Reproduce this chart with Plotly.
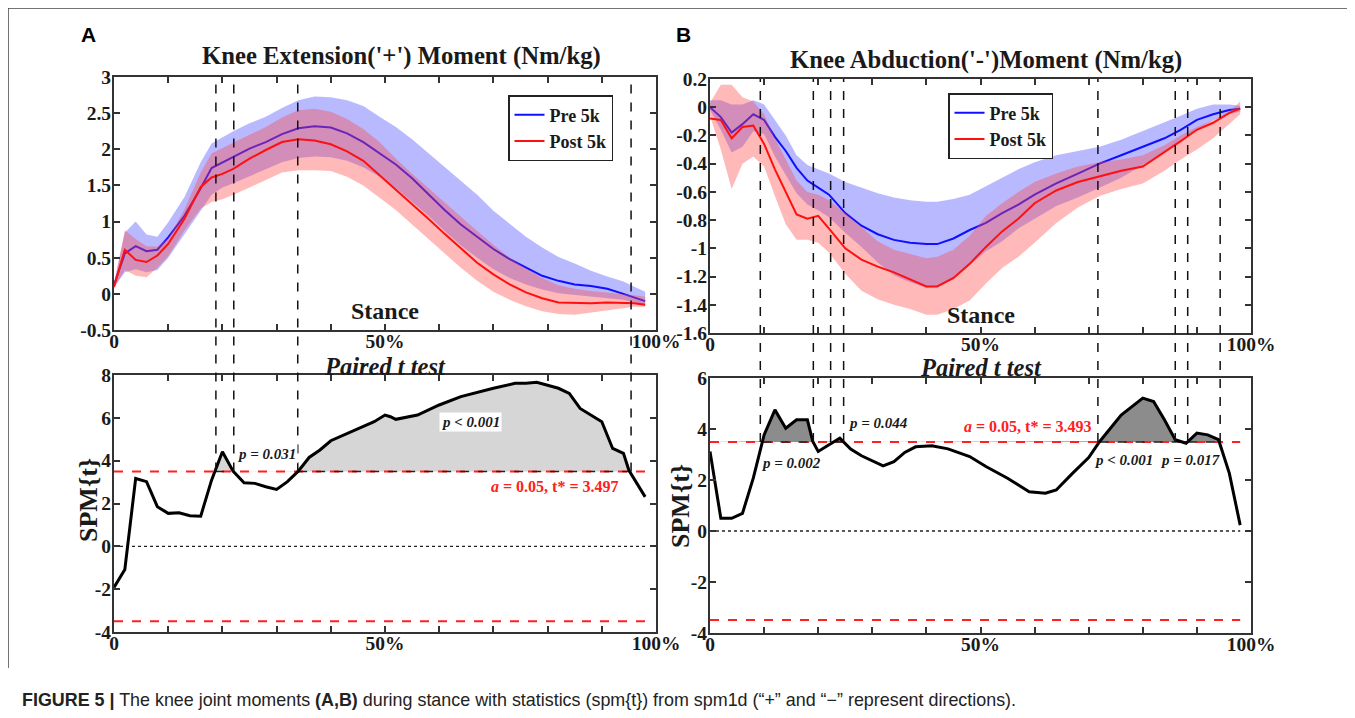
import numpy as np
import plotly.graph_objects as go

# ---------------- data ----------------
# Panel A: knee extension moment (Nm/kg), stance %
stance_A = [0, 2, 4, 6, 8, 10, 13, 16, 18, 20, 22, 25, 28, 31, 34, 37, 40, 43, 46, 49,
            52, 55, 58, 61, 64, 67, 70, 73, 76, 79, 82, 85, 88, 91, 94, 96, 98]
pre_mean_A = [0.12, 0.56, 0.66, 0.59, 0.61, 0.78, 1.08, 1.46, 1.74, 1.82, 1.89, 2.01, 2.10, 2.21, 2.29, 2.32, 2.30, 2.22, 2.10, 1.95,
              1.79, 1.60, 1.38, 1.16, 0.96, 0.79, 0.62, 0.48, 0.36, 0.25, 0.18, 0.13, 0.11, 0.07, 0.00, -0.05, -0.10]
pre_up_A = [0.14, 0.85, 1.00, 0.82, 0.79, 0.99, 1.34, 1.82, 2.08, 2.17, 2.25, 2.36, 2.45, 2.57, 2.68, 2.73, 2.72, 2.68, 2.60, 2.45,
            2.31, 2.14, 1.95, 1.76, 1.56, 1.37, 1.15, 0.97, 0.79, 0.64, 0.51, 0.42, 0.32, 0.24, 0.17, 0.10, 0.03]
pre_lo_A = [0.10, 0.30, 0.34, 0.30, 0.33, 0.50, 0.82, 1.15, 1.37, 1.47, 1.53, 1.63, 1.72, 1.82, 1.88, 1.90, 1.89, 1.84, 1.75, 1.62,
            1.46, 1.27, 1.08, 0.87, 0.67, 0.50, 0.34, 0.22, 0.13, 0.06, 0.01, -0.02, -0.04, -0.06, -0.08, -0.12, -0.16]
post_mean_A = [0.10, 0.61, 0.47, 0.44, 0.53, 0.69, 1.04, 1.48, 1.61, 1.66, 1.73, 1.87, 1.99, 2.10, 2.14, 2.12, 2.07, 1.97, 1.84, 1.64,
               1.45, 1.25, 1.04, 0.83, 0.63, 0.43, 0.27, 0.13, 0.02, -0.06, -0.12, -0.13, -0.13, -0.12, -0.12, -0.13, -0.15]
post_up_A = [0.14, 0.88, 0.76, 0.66, 0.65, 0.77, 1.17, 1.68, 1.94, 2.02, 2.09, 2.20, 2.31, 2.44, 2.54, 2.56, 2.52, 2.42, 2.28, 2.10,
             1.87, 1.66, 1.46, 1.26, 1.06, 0.87, 0.68, 0.50, 0.35, 0.22, 0.12, 0.07, 0.04, 0.02, 0.00, -0.02, -0.04]
post_lo_A = [0.07, 0.33, 0.25, 0.23, 0.36, 0.52, 0.88, 1.18, 1.27, 1.31, 1.37, 1.47, 1.57, 1.68, 1.71, 1.71, 1.70, 1.62, 1.50, 1.33,
             1.16, 0.96, 0.77, 0.56, 0.36, 0.18, 0.03, -0.08, -0.17, -0.24, -0.28, -0.29, -0.27, -0.24, -0.20, -0.18, -0.18]

spm_x_A = [0, 2, 4, 6, 8, 10, 12, 14, 16, 18, 20, 22, 24, 26, 28, 30, 32, 34, 36, 38, 40, 42, 44, 46, 48, 50,
           51, 52, 56, 60, 64, 70, 74, 76, 78, 82, 84, 86, 88, 90, 92, 94, 95, 98]
spm_A = [-1.92, -1.08, 3.17, 3.02, 1.85, 1.54, 1.57, 1.43, 1.41, 3.09, 4.42, 3.50, 2.97, 2.94, 2.78, 2.66, 3.02, 3.51,
         4.15, 4.50, 4.93, 5.15, 5.38, 5.62, 5.82, 6.13, 6.05, 5.93, 6.13, 6.60, 6.99, 7.38, 7.61, 7.61, 7.66, 7.38,
         7.14, 6.44, 6.13, 5.82, 4.57, 4.34, 3.55, 2.31]
t_crit_A = 3.497
cluster_edges_A = [18.8, 22.1, 33.9, 95.4]

# Panel B: knee abduction moment (Nm/kg)
stance_B = [0, 2, 4, 6, 8, 10, 12, 14, 16, 18, 20, 22, 25, 28, 31, 34, 37, 40, 42, 45,
            48, 51, 54, 57, 60, 64, 68, 72, 76, 80, 84, 87, 90, 93, 96, 98]
pre_mean_B = [0.00, -0.07, -0.18, -0.12, -0.05, -0.09, -0.21, -0.31, -0.43, -0.52, -0.57, -0.62, -0.75, -0.84, -0.90, -0.94, -0.96, -0.97, -0.97, -0.93,
              -0.87, -0.82, -0.75, -0.69, -0.62, -0.54, -0.47, -0.40, -0.34, -0.28, -0.22, -0.16, -0.09, -0.05, -0.02, -0.01]
pre_up_B = [0.05, 0.05, 0.02, 0.02, 0.05, 0.02, -0.09, -0.20, -0.34, -0.41, -0.44, -0.47, -0.53, -0.57, -0.61, -0.64, -0.66, -0.67, -0.67, -0.65,
            -0.62, -0.56, -0.50, -0.44, -0.39, -0.34, -0.31, -0.28, -0.23, -0.17, -0.11, -0.06, -0.01, 0.02, 0.02, 0.01]
pre_lo_B = [-0.02, -0.16, -0.32, -0.28, -0.17, -0.19, -0.35, -0.48, -0.61, -0.69, -0.73, -0.78, -0.89, -0.99, -1.10, -1.19, -1.24, -1.28, -1.27, -1.22,
            -1.12, -1.02, -0.95, -0.86, -0.79, -0.70, -0.64, -0.57, -0.50, -0.41, -0.32, -0.23, -0.16, -0.09, -0.05, -0.03]
post_mean_B = [-0.08, -0.09, -0.22, -0.14, -0.13, -0.26, -0.44, -0.60, -0.76, -0.79, -0.77, -0.86, -1.00, -1.08, -1.13, -1.17, -1.22, -1.27, -1.27, -1.21,
               -1.11, -0.99, -0.88, -0.79, -0.68, -0.59, -0.53, -0.49, -0.45, -0.42, -0.32, -0.24, -0.16, -0.11, -0.04, -0.01]
post_up_B = [0.03, 0.16, 0.16, 0.07, 0.04, -0.05, -0.22, -0.37, -0.52, -0.60, -0.62, -0.66, -0.75, -0.85, -0.95, -1.01, -1.04, -1.07, -1.06, -1.01,
             -0.91, -0.77, -0.68, -0.60, -0.53, -0.47, -0.42, -0.39, -0.37, -0.34, -0.27, -0.20, -0.14, -0.09, -0.03, 0.04]
post_lo_B = [-0.06, -0.30, -0.58, -0.40, -0.35, -0.42, -0.63, -0.83, -0.94, -0.94, -0.96, -1.03, -1.18, -1.30, -1.36, -1.40, -1.43, -1.47, -1.47, -1.43,
             -1.37, -1.25, -1.14, -1.06, -0.96, -0.82, -0.71, -0.63, -0.58, -0.54, -0.45, -0.37, -0.30, -0.22, -0.12, -0.05]

spm_x_B = [0, 2, 4, 6, 8, 10, 12, 14, 16, 18, 19, 20, 22, 24, 26, 28, 32, 34, 36, 38, 41, 44, 48, 51, 55, 59,
           62, 64, 67, 70, 72, 74, 76, 80, 82, 84, 86, 88, 90, 92, 94, 96, 98]
spm_B = [3.12, 0.50, 0.50, 0.69, 2.07, 3.77, 4.75, 4.03, 4.36, 4.36, 3.51, 3.12, 3.38, 3.64, 3.21, 2.95, 2.55, 2.72,
         3.08, 3.30, 3.34, 3.22, 2.92, 2.53, 2.07, 1.54, 1.48, 1.61, 2.26, 2.88, 3.50, 4.03, 4.55, 5.21, 5.08, 4.36,
         3.58, 3.44, 3.84, 3.77, 3.58, 2.26, 0.23]
t_crit_B = 3.493
cluster_edges_B = [9.3, 19.1, 22.3, 24.7, 71.7, 86.0, 88.3, 94.3]

x_ticks = [0, 10, 20, 30, 40, 50, 60, 70, 80, 90, 100]
x_ticktext = ["0", "", "", "", "", "50%", "", "", "", "", "100%"]
y_ticks_A_top = [-0.5, 0, 0.5, 1, 1.5, 2, 2.5, 3]
y_ticks_A_bot = [-4, -2, 0, 2, 4, 6, 8]
y_ticks_B_top = [-1.6, -1.4, -1.2, -1.0, -0.8, -0.6, -0.4, -0.2, 0, 0.2]
y_ticks_B_bot = [-4, -2, 0, 2, 4, 6]

# ---------------- layout helpers ----------------
W, H = 1355, 718
OFF = 8  # the page body margin shifts the figure by this many pixels
SERIF = "Liberation Serif, Times New Roman, serif"
SANS = "Liberation Sans, Arial, sans-serif"
INK = "#1a1a1a"


def PX(p):
    return (p - OFF) / W


def PY(p):
    return 1 - (p - OFF) / H


def dom_x(a, b):
    return [PX(a), PX(b)]


def dom_y(top, bottom):
    return [PY(bottom), PY(top)]


def fmt(v):
    return "%g" % round(v, 2)


DOM = {
    "A_top": (dom_x(114, 656), dom_y(77, 330)),
    "A_bot": (dom_x(114, 656), dom_y(375, 632)),
    "B_top": (dom_x(710, 1251), dom_y(79, 333)),
    "B_bot": (dom_x(710, 1251), dom_y(378, 633)),
}
RNG = {"A_top": [-0.5, 3], "A_bot": [-4, 8], "B_top": [-1.6, 0.2], "B_bot": [-4, 6]}

fig = go.Figure()

BLUE_FILL = "rgba(70,70,255,0.38)"
RED_FILL = "rgba(255,70,70,0.38)"


def moment_panel(xs, pm, pu, pl, qm, qu, ql, xa, ya, legend):
    xs = list(xs)
    fig.add_trace(go.Scatter(x=xs + xs[::-1], y=list(pu) + list(pl)[::-1], fill="toself",
                             fillcolor=BLUE_FILL, line=dict(width=0), mode="lines",
                             showlegend=False, hoverinfo="skip", xaxis=xa, yaxis=ya))
    fig.add_trace(go.Scatter(x=xs, y=pm, mode="lines", line=dict(color="#1010ff", width=2),
                             name="Pre 5k", legend=legend, xaxis=xa, yaxis=ya))
    fig.add_trace(go.Scatter(x=xs + xs[::-1], y=list(qu) + list(ql)[::-1], fill="toself",
                             fillcolor=RED_FILL, line=dict(width=0), mode="lines",
                             showlegend=False, hoverinfo="skip", xaxis=xa, yaxis=ya))
    fig.add_trace(go.Scatter(x=xs, y=qm, mode="lines", line=dict(color="#ff1010", width=2),
                             name="Post 5k", legend=legend, xaxis=xa, yaxis=ya))


def spm_panel(xs, ys, thr, xa, ya, fillcol):
    xs = np.asarray(xs, float)
    ys = np.asarray(ys, float)
    xd = np.linspace(xs[0], xs[-1], 2000)
    yd = np.interp(xd, xs, ys)
    up = np.maximum(yd, thr)
    fig.add_trace(go.Scatter(x=xd, y=np.full_like(xd, thr), mode="lines", line=dict(width=0),
                             showlegend=False, hoverinfo="skip", xaxis=xa, yaxis=ya))
    fig.add_trace(go.Scatter(x=xd, y=up, mode="lines", line=dict(width=0), fill="tonexty",
                             fillcolor=fillcol, showlegend=False, hoverinfo="skip", xaxis=xa, yaxis=ya))
    for t in (thr, -thr):
        fig.add_trace(go.Scatter(x=[xs[0], xs[-1]], y=[t, t], mode="lines",
                                 line=dict(color="#ff2020", width=2, dash="dash"),
                                 showlegend=False, hoverinfo="skip", xaxis=xa, yaxis=ya))
    above = np.where(yd > thr, thr, np.nan)
    fig.add_trace(go.Scatter(x=xd, y=above, mode="lines", connectgaps=False,
                             line=dict(color="#222", width=1.5, dash="dash"),
                             showlegend=False, hoverinfo="skip", xaxis=xa, yaxis=ya))
    fig.add_trace(go.Scatter(x=[xs[0], xs[-1]], y=[0, 0], mode="lines",
                             line=dict(color="#222", width=1.3, dash="dot"),
                             showlegend=False, hoverinfo="skip", xaxis=xa, yaxis=ya))
    fig.add_trace(go.Scatter(x=xs, y=ys, mode="lines", line=dict(color="black", width=3),
                             showlegend=False, hoverinfo="skip", xaxis=xa, yaxis=ya))


moment_panel(stance_A, pre_mean_A, pre_up_A, pre_lo_A, post_mean_A, post_up_A, post_lo_A, "x", "y", "legend")
spm_panel(spm_x_A, spm_A, t_crit_A, "x2", "y2", "#d6d6d6")
moment_panel(stance_B, pre_mean_B, pre_up_B, pre_lo_B, post_mean_B, post_up_B, post_lo_B, "x3", "y3", "legend2")
spm_panel(spm_x_B, spm_B, t_crit_B, "x4", "y4", "#8c8c8c")

TICKFONT = dict(family=SERIF, size=19.5, color=INK, weight="bold")


def xaxis(key, anchor):
    return dict(domain=DOM[key][0], anchor=anchor, range=[0, 100], tickvals=x_ticks, ticktext=x_ticktext,
                ticks="inside", ticklen=6, tickwidth=1.5, tickcolor="#333", showline=True, linecolor="#333",
                linewidth=2, mirror="ticks", showgrid=False, zeroline=False, tickfont=TICKFONT, tickangle=0,
                automargin=False, ticklabelstandoff=-7)


def yaxis(key, anchor, tv):
    return dict(domain=DOM[key][1], anchor=anchor, range=RNG[key], tickvals=tv, ticktext=[fmt(v) for v in tv],
                ticks="inside", ticklen=6, tickwidth=1.5, tickcolor="#333", showline=True, linecolor="#333",
                linewidth=2, mirror="ticks", showgrid=False, zeroline=False, tickfont=TICKFONT,
                automargin=False, ticklabelstandoff=-3)


LEGFONT = dict(family=SERIF, size=18, color=INK, weight="bold")
layout = dict(
    width=W, height=H, margin=dict(l=0, r=0, t=0, b=0, pad=0, autoexpand=False),
    paper_bgcolor="white", plot_bgcolor="white",
    xaxis=xaxis("A_top", "y"), yaxis=yaxis("A_top", "x", y_ticks_A_top),
    xaxis2=xaxis("A_bot", "y2"), yaxis2=yaxis("A_bot", "x2", y_ticks_A_bot),
    xaxis3=xaxis("B_top", "y3"), yaxis3=yaxis("B_top", "x3", y_ticks_B_top),
    xaxis4=xaxis("B_bot", "y4"), yaxis4=yaxis("B_bot", "x4", y_ticks_B_bot),
    legend=dict(x=PX(508), y=PY(95), xanchor="left", yanchor="top", bgcolor="white",
                bordercolor="#222", borderwidth=1.5, font=LEGFONT, itemwidth=30, tracegroupgap=0,
                traceorder="normal"),
    legend2=dict(x=PX(948), y=PY(93), xanchor="left", yanchor="top", bgcolor="white",
                 bordercolor="#222", borderwidth=1.5, font=LEGFONT, itemwidth=30, tracegroupgap=0,
                 traceorder="normal"),
    showlegend=True,
)
fig.update_layout(**layout)


def paper_y(key, v):
    d = DOM[key][1]
    r = RNG[key]
    return d[0] + (v - r[0]) / (r[1] - r[0]) * (d[1] - d[0])


shapes = []
for edges, xr, top, bot, thr in ((cluster_edges_A, "x", "A_top", "A_bot", t_crit_A),
                                 (cluster_edges_B, "x3", "B_top", "B_bot", t_crit_B)):
    for e in edges:
        shapes.append(dict(type="line", xref=xr, yref="paper", x0=e, x1=e,
                           y0=paper_y(bot, thr), y1=DOM[top][1][1],
                           line=dict(color="#111", width=1.5, dash="dash"), layer="above"))
# figure frame
shapes.append(dict(type="line", xref="paper", yref="paper", x0=PX(8), x1=PX(8), y0=PY(668), y1=PY(8),
                   line=dict(color="#444", width=1.5)))
shapes.append(dict(type="line", xref="paper", yref="paper", x0=PX(8), x1=1, y0=PY(8), y1=PY(8),
                   line=dict(color="#444", width=1.5)))
fig.update_layout(shapes=shapes)

ann = []


def txt(text, x, y, size, xref="paper", yref="paper", color=INK, family=SERIF, bg=None, angle=0, xanchor="center"):
    d = dict(text=text, x=x, y=y, xref=xref, yref=yref, showarrow=False, xanchor=xanchor, yanchor="middle",
             font=dict(family=family, size=size, color=color), textangle=angle)
    if bg:
        d["bgcolor"] = bg
        d["borderpad"] = 1
    ann.append(d)


txt("<b>A</b>", PX(88), PY(34), 21, family=SANS, color="black")
txt("<b>B</b>", PX(683), PY(35), 21, family=SANS, color="black")
txt("<b>Knee Extension('+') Moment (Nm/kg)</b>", PX(401), PY(56), 24.7)
txt("<b>Knee Abduction('-')Moment (Nm/kg)</b>", PX(986), PY(60), 24.7)
txt("<b>Stance</b>", 50, -0.24, 24, xref="x", yref="y")
txt("<b>Stance</b>", 50, -1.47, 24, xref="x3", yref="y3")
txt("<b><i>Paired t test</i></b>", PX(385), PY(366), 24.5)
txt("<b><i>Paired t test</i></b>", PX(981), PY(367), 24.5)
txt("<b>SPM{t}</b>", PX(88), PY(500), 26, angle=-90)
txt("<b>SPM{t}</b>", PX(680), PY(506), 26, angle=-90)
# panel A statistics labels
txt("<b><i>p = 0.031</i></b>", 28.2, 4.33, 15, xref="x2", yref="y2", bg="white")
txt("<b><i>p &lt; 0.001</i></b>", 65.7, 5.82, 15, xref="x2", yref="y2", bg="white")
txt("<b><i>a</i> = 0.05, t* = 3.497</b>", 81.4, 2.79, 16, xref="x2", yref="y2", color="#ff2020")
# panel B statistics labels
txt("<b><i>p = 0.002</i></b>", 14.9, 2.68, 15, xref="x4", yref="y4")
txt("<b><i>p = 0.044</i></b>", 31.1, 4.25, 15, xref="x4", yref="y4")
txt("<b><i>a</i> = 0.05, t* = 3.493</b>", 58.8, 4.08, 16, xref="x4", yref="y4", color="#ff2020")
txt("<b><i>p &lt; 0.001</i></b>", 76.4, 2.78, 15, xref="x4", yref="y4")
txt("<b><i>p = 0.017</i></b>", 88.7, 2.78, 15, xref="x4", yref="y4")
# caption
txt("<b>FIGURE 5 |</b> The knee joint moments <b>(A,B)</b> during stance with statistics (spm{t}) from spm1d "
    "(\u201c+\u201d and \u201c\u2212\u201d represent directions).", PX(20), PY(700), 17.9,
    family=SANS, color="#222", xanchor="left")

fig.update_layout(annotations=ann)
fig.write_html("out.html")
